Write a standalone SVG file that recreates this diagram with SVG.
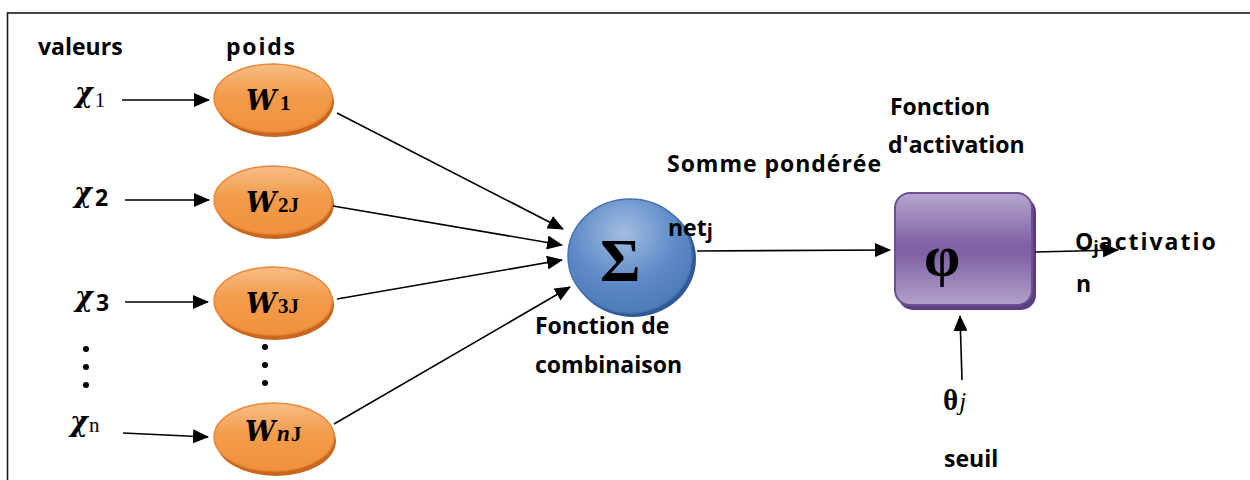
<svg xmlns="http://www.w3.org/2000/svg" width="1250" height="480" viewBox="0 0 1250 480">
  <style>
    .lbl { font-family: "Open Sans", "Liberation Sans", sans-serif; font-weight: bold; font-size: 23px; fill: #000; }
    .math { font-family: "Liberation Serif", "DejaVu Serif", serif; fill: #000; }
    .chi { font-family: "DejaVu Serif", "Liberation Serif", serif; font-weight: bold; font-style: italic; font-size: 27px; }
    .wt { font-family: "DejaVu Serif", "Liberation Serif", serif; font-weight: bold; font-style: italic; font-size: 27px; }
    .sub { font-family: "Liberation Serif", "DejaVu Serif", serif; font-weight: bold; font-size: 21px; }
    .edge { stroke: #000; stroke-width: 1.6; fill: none; marker-end: url(#arrow); }
    .dot { fill: #000; }
    .rim-o { fill: #c9671e; }
    .body-o { fill: url(#orange); stroke: #e8883a; stroke-width: 1.5; }
  </style>
  <defs>
    <marker id="arrow" viewBox="0 0 16 14" refX="15" refY="7" markerWidth="16" markerHeight="14" markerUnits="userSpaceOnUse" orient="auto">
      <path d="M0,0 L16,7 L0,14 z" fill="#000"/>
    </marker>
    <linearGradient id="orange" x1="0" y1="0" x2="0" y2="1">
      <stop offset="0" stop-color="#f8bd86"/>
      <stop offset="0.45" stop-color="#f39c4c"/>
      <stop offset="1" stop-color="#f0913c"/>
    </linearGradient>
    <radialGradient id="blue" cx="0.45" cy="0.3" r="0.75">
      <stop offset="0" stop-color="#a3bde2"/>
      <stop offset="0.55" stop-color="#5f8cc8"/>
      <stop offset="1" stop-color="#4a77b6"/>
    </radialGradient>
    <linearGradient id="purple" x1="0" y1="0" x2="0" y2="1">
      <stop offset="0" stop-color="#b6a6cf"/>
      <stop offset="0.45" stop-color="#8063a5"/>
      <stop offset="0.55" stop-color="#7f62a4"/>
      <stop offset="1" stop-color="#b3a1cc"/>
    </linearGradient>
  </defs>

  <!-- frame -->
  <rect x="7.5" y="13" width="1300" height="520" fill="none" stroke="#1a1a1a" stroke-width="1.6"/>

  <!-- column headings -->
  <g id="headings">
    <text class="lbl" x="38" y="55">valeurs</text>
    <text class="lbl" x="226" y="55" textLength="69">poids</text>
  </g>

  <!-- inputs -->
  <g id="x1">
    <text class="chi" x="75" y="102">χ</text>
    <text class="math" x="95" y="107" font-size="20">1</text>
  </g>
  <g id="x2">
    <text class="chi" x="74" y="202">χ</text>
    <text class="lbl" x="95" y="206" font-size="19">2</text>
  </g>
  <g id="x3">
    <text class="chi" x="75" y="306">χ</text>
    <text class="lbl" x="96" y="311" font-size="19">3</text>
  </g>
  <g id="xn">
    <text class="chi" x="70" y="431">χ</text>
    <text class="math" x="89" y="432" font-size="21">n</text>
  </g>
  <g id="dots-in">
    <circle class="dot" cx="86" cy="349" r="3"/>
    <circle class="dot" cx="86" cy="367" r="3"/>
    <circle class="dot" cx="86" cy="385" r="3"/>
  </g>

  <!-- weights -->
  <g id="w1">
    <ellipse class="rim-o" cx="275" cy="102" rx="59" ry="35"/>
    <ellipse class="body-o" cx="273" cy="98" rx="59" ry="34"/>
    <text class="wt" x="246" y="110">W</text>
    <text class="math" x="280" y="110" font-size="21" font-weight="bold">1</text>
  </g>
  <g id="w2">
    <ellipse class="rim-o" cx="275" cy="204" rx="59" ry="35"/>
    <ellipse class="body-o" cx="273" cy="200" rx="59" ry="34"/>
    <text class="wt" x="246" y="212">W</text>
    <text class="sub" x="278" y="212">2J</text>
  </g>
  <g id="w3">
    <ellipse class="rim-o" cx="275" cy="305" rx="59" ry="35"/>
    <ellipse class="body-o" cx="273" cy="301" rx="59" ry="34"/>
    <text class="wt" x="246" y="313">W</text>
    <text class="sub" x="278" y="313">3J</text>
  </g>
  <g id="dots-w">
    <circle class="dot" cx="265" cy="347" r="3"/>
    <circle class="dot" cx="265" cy="365" r="3"/>
    <circle class="dot" cx="265" cy="383" r="3"/>
  </g>
  <g id="wn">
    <ellipse class="rim-o" cx="276" cy="441" rx="60" ry="35"/>
    <ellipse class="body-o" cx="274" cy="437" rx="60" ry="34"/>
    <text class="wt" x="245" y="441">W</text>
    <text class="math" x="277" y="441" font-size="23" font-weight="bold" font-style="italic">n</text>
    <text class="sub" x="291" y="441">J</text>
  </g>

  <!-- summation node -->
  <g id="sum">
    <ellipse cx="633" cy="259" rx="63" ry="58" fill="#2f5a96"/>
    <ellipse cx="630" cy="256" rx="62" ry="57" fill="url(#blue)" stroke="#4571ad" stroke-width="1.5"/>
    <text class="math" x="600" y="281" font-size="62" font-weight="bold">Σ</text>
  </g>
  <g id="sum-labels">
    <text class="lbl" x="667" y="172" textLength="214">Somme pondérée</text>
    <text class="lbl" x="668" y="236">net<tspan font-size="20" dy="2">j</tspan></text>
    <text class="lbl" x="535" y="334">Fonction de</text>
    <text class="lbl" x="535" y="373">combinaison</text>
  </g>

  <!-- activation node -->
  <g id="activation">
    <rect x="898" y="197" width="138" height="113" rx="15" fill="#5b4080"/>
    <rect x="895" y="193" width="137" height="112" rx="15" fill="url(#purple)" stroke="#6b4f92" stroke-width="2"/>
    <text class="math" x="942" y="275" font-size="58" font-weight="bold" text-anchor="middle">φ</text>
  </g>
  <g id="activation-labels">
    <text class="lbl" x="890" y="115">Fonction</text>
    <text class="lbl" x="888" y="153">d'activation</text>
    <text class="math" x="943" y="410" font-size="29" font-weight="bold">θ<tspan font-size="25" font-weight="normal" font-style="italic" dx="1">j</tspan></text>
    <text class="lbl" x="944" y="467">seuil</text>
  </g>

  <!-- connectors -->
  <g id="connectors">
    <line class="edge" x1="122" y1="100" x2="209" y2="100"/>
    <line class="edge" x1="125" y1="200" x2="209" y2="200"/>
    <line class="edge" x1="125" y1="302" x2="208" y2="302"/>
    <line class="edge" x1="123" y1="433" x2="208" y2="437"/>
    <line class="edge" x1="337" y1="113" x2="563" y2="229"/>
    <line class="edge" x1="333" y1="206" x2="562" y2="245"/>
    <line class="edge" x1="337" y1="299" x2="562" y2="260"/>
    <line class="edge" x1="334" y1="424" x2="570" y2="287"/>
    <line class="edge" x1="697" y1="251" x2="890" y2="250"/>
    <line class="edge" x1="1035" y1="252" x2="1118" y2="250"/>
    <line class="edge" x1="962" y1="380" x2="960" y2="316"/>
  </g>

  <!-- output label -->
  <g id="output">
    <text class="lbl" x="1075" y="250">O<tspan font-size="18" dy="4">j</tspan><tspan dy="-4" letter-spacing="2">activatio</tspan></text>
    <text class="lbl" x="1076" y="292">n</text>
  </g>
</svg>
